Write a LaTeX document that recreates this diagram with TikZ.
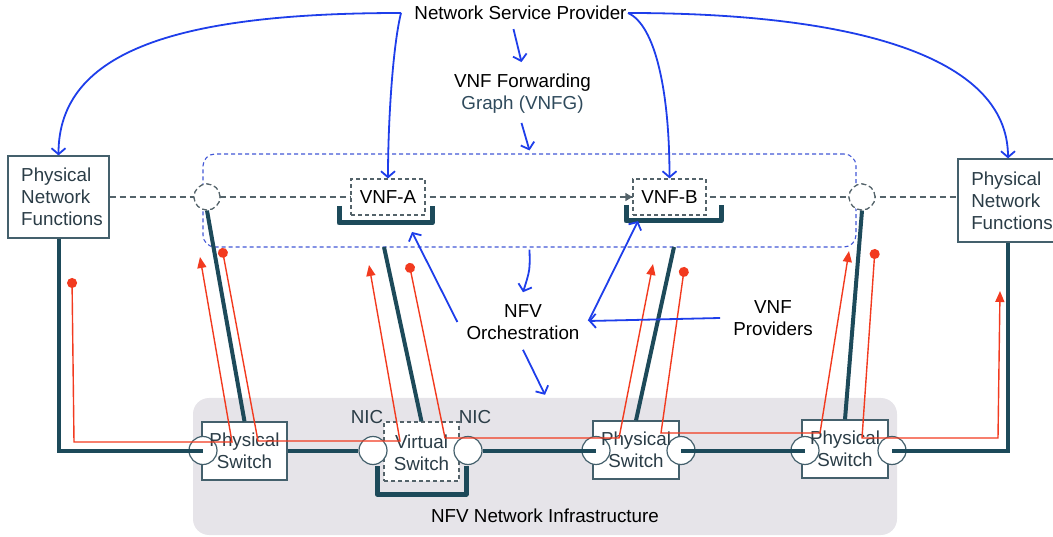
\documentclass[tikz,border=0pt]{standalone}
\usepackage{fontspec}
\setmainfont{Liberation Sans}
\usetikzlibrary{arrows.meta,calc}

\definecolor{linkc}{HTML}{1D4A5A}
\definecolor{boxc}{HTML}{44606C}
\definecolor{slate}{HTML}{2B3D47}
\definecolor{dashc}{HTML}{54636A}
\definecolor{redc}{HTML}{F23A1F}
\definecolor{bluec}{HTML}{1E3EEA}
\definecolor{bdashc}{HTML}{4257D6}
\definecolor{infrac}{HTML}{E6E4E9}
\definecolor{graphc}{HTML}{2F4A5C}

\begin{document}
\begin{tikzpicture}[x=1pt,y=-1pt,
  every node/.style={font=\fontsize{18.8}{22}\selectfont, inner sep=0pt},
  lbl/.style={align=center},
  box/.style={draw=boxc, line width=1.2pt, fill=white},
  vbox/.style={draw=dashc, line width=1.2pt, dash pattern=on 4pt off 3pt, fill=white},
  dport/.style={circle, draw=dashc, line width=1.2pt, dash pattern=on 5pt off 3pt, fill=white, minimum size=26pt},
  port/.style={circle, draw=boxc, line width=1.2pt, fill=white, minimum size=28pt},
  link/.style={draw=linkc, line width=4pt},
  holder/.style={draw=linkc, line width=5pt, line join=round},
  flowln/.style={draw=redc, line width=1.4pt, {Circle[length=10pt]}-{Triangle[length=11pt,width=9pt]}},
  barrow/.style={draw=bluec, line width=1.8pt, -{Straight Barb[length=6pt,width=14pt]}},
  sdash/.style={draw=dashc, line width=1.3pt, dash pattern=on 6pt off 4pt},
  bdash/.style={draw=bdashc, line width=1.1pt, dash pattern=on 4pt off 3pt, rounded corners=12pt},
]
\useasboundingbox (0,0) rectangle (1053,537);

% infrastructure area and forwarding-graph frame
\node[fill=infrac, rounded corners=16pt, minimum width=704pt, minimum height=137pt] (infra) at (545,466.5) {};
\node[bdash, minimum width=653pt, minimum height=93pt] (fg) at (529.5,200.5) {};

% physical network functions
\node[box, minimum width=101pt, minimum height=82pt] (pnfL) at (58.5,197) {};
\node[box, minimum width=100pt, minimum height=83pt] (pnfR) at (1008,200.5) {};

% logical service chain
\draw[sdash] (pnfL.east) -- (pnfR.west |- pnfL.east);

% VNF hosts and their uplinks
\node[dport] (vpL) at (207,197) {};
\node[dport] (vpR) at (862,197) {};
\coordinate (aLink) at (384,247);
\coordinate (bLink) at (674,247);

% switches
\node[box, minimum width=85pt, minimum height=58pt] (ps1) at (244.5,451) {};
\node[vbox, minimum width=75pt, minimum height=59pt] (vsw) at (421.5,451.5) {};
\node[box, minimum width=86pt, minimum height=58pt] (ps2) at (636,450) {};
\node[box, minimum width=86pt, minimum height=58pt] (ps3) at (845,449) {};

\draw[link] (vpL.south) -- (ps1.north);
\draw[link] (aLink) -- (vsw.north);
\draw[link] (bLink) -- (ps2.north);
\draw[link] (vpR.south) -- (ps3.north);
\node[dport] at (vpL) {};
\node[dport] at (vpR) {};

% VNF brackets
\draw[holder] (339,206) -- (339,223) -- (432,223) -- (432,206);
\draw[holder] (626,205) -- (626,221) -- (721,221) -- (721,205);
\draw[holder] (377,466) -- (377,494) -- (466,494) -- (466,466);

\node[vbox, minimum width=74pt, minimum height=36pt] (vnfA) at (388,197) {VNF-A};
\node[vbox, minimum width=73pt, minimum height=36pt] (vnfB) at (669.5,197) {VNF-B};
\draw[draw=dashc, line width=1.3pt, -{Triangle[length=7pt,width=8pt]}] ($(vnfB.west)+(-12,0)$) -- (vnfB.west);

% ports
\node[port] (p1L) at (203,450.5) {};
\node[port] (nicL) at (373,450.5) {};
\node[port] (nicR) at (468,450.5) {};
\node[port] (p2L) at (596,450.5) {};
\node[port] (p2R) at (681,450.5) {};
\node[port] (p3L) at (805,450.5) {};
\node[port] (p3R) at (892,450.5) {};

% physical links
\draw[link] (pnfL.south) |- (p1L.center);
\draw[link] (ps1.east |- nicL) -- (nicL.west);
\draw[link] (nicR.east) -- (p2L.center);
\draw[link] (p2R.center) -- (p3L.center);
\draw[link, line join=miter] (p3R.center) -| (pnfR.south);

% box texts
\node[lbl, text=slate, align=left] (pnfLt) at (62,197) {Physical\\Network\\Functions};
\node[lbl, text=slate, align=left] (pnfRt) at (1012,200.5) {Physical\\Network\\Functions};
\node[lbl, text=slate] (ps1t) at (ps1) {Physical\\Switch};
\node[lbl, text=slate] (vswt) at ($(vsw)+(0,1.5)$) {Virtual\\Switch};
\node[lbl, text=slate] (ps2t) at (ps2) {Physical\\Switch};
\node[lbl, text=slate] (ps3t) at (ps3) {Physical\\Switch};
\node[text=slate] (nicLt) at (367,417) {NIC};
\node[text=slate] (nicRt) at (475,417) {NIC};

% traffic flows
\coordinate (f1s) at (72,278);   \coordinate (f1e) at (200,257);
\coordinate (f2s) at (222,248);  \coordinate (f2e) at (369,265);
\coordinate (f3s) at (409,263);  \coordinate (f3e) at (653,264);
\coordinate (f4s) at (684.5,267);\coordinate (f4e) at (849,251);
\coordinate (f5s) at (875,249);  \coordinate (f5e) at (1000,291);
\draw[flowln] (f1s) -- (74,442) -- (232,442) -- (f1e);
\draw[flowln] (f2s) -- (258,441) -- (400,441) -- (f2e);
\draw[flowln] (f3s) -- (445,438) -- (619,438) -- (f3e);
\draw[flowln] (f4s) -- (661,433) -- (820,433) -- (f4e);
\draw[flowln] (f5s) -- (862,438) -- (998,438) -- (f5e);

% labels
\node (nsp) at (520.5,13) {Network Service Provider};
\node[lbl] (vnfg) at (522.5,94) {VNF Forwarding\\{\color{graphc}Graph (VNFG)}};
\node[lbl] (orch) at (523,322) {NFV\\Orchestration};
\node[lbl] (vnfp) at (773,318) {VNF\\Providers};
\node (infrat) at (545,516) {NFV Network Infrastructure};

% management arrows
\coordinate (nspL) at (401,13);
\coordinate (nspR) at (628,13);
\draw[barrow] (nspL) .. controls (180,13) and (58.5,50) .. (pnfL.north);
\draw[barrow] (nspL) .. controls (393,45) and (388,120) .. (vnfA.north);
\draw[barrow] (nspR) .. controls (655,25) and (669.5,90) .. (vnfB.north);
\draw[barrow] (nspR) .. controls (850,13) and (1008,55) .. (pnfR.north);
\draw[barrow] ($(nsp.south)+(-7,9)$) -- ($(vnfg.north)+(-1,-12)$);
\draw[barrow] ($(vnfg.south)+(-1,9)$) -- ($(fg.north)+(0,-3)$);
\draw[barrow] ($(fg.south)+(0,2)$) .. controls (530,270) .. ($(orch.north)+(0,-12)$);
\draw[barrow] ($(orch.south)+(0,10)$) -- ($(infra.north)+(0,-3)$);
\coordinate (aTip) at (412,232);
\coordinate (bTip) at (638,221);
\coordinate (orchE) at ($(orch.east)+(9,-1)$);
\draw[barrow] ($(orch.west)+(-9,0)$) -- (aTip);
\draw[barrow] ($(vnfp.west)+(-13,0)$) -- (orchE);
\draw[barrow] (orchE) -- (bTip);
\end{tikzpicture}
\end{document}
